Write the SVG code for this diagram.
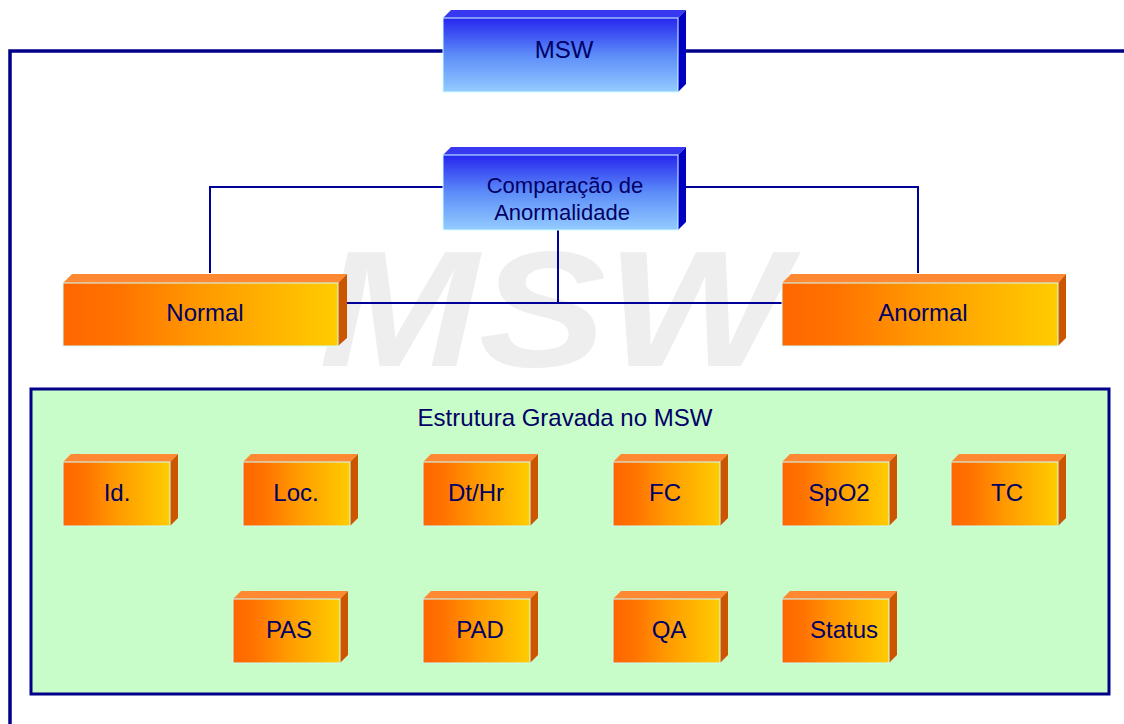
<svg xmlns="http://www.w3.org/2000/svg" width="1124" height="724" viewBox="0 0 1124 724">
<defs>
<linearGradient id="gBlue" x1="0" y1="0" x2="0" y2="1">
<stop offset="0" stop-color="#2626ee"/>
<stop offset="0.5" stop-color="#5c8cf8"/>
<stop offset="1" stop-color="#94ccff"/>
</linearGradient>
<linearGradient id="gOrange" x1="0" y1="0" x2="1" y2="0">
<stop offset="0" stop-color="#ff6600"/>
<stop offset="0.2" stop-color="#ff7300"/>
<stop offset="0.5" stop-color="#ff9900"/>
<stop offset="1" stop-color="#ffcc00"/>
</linearGradient>
<style>
.face{stroke:#ccffff;stroke-width:1}
.btop{fill:#3838f0}
.bside{fill:#0000c0}
.otop{fill:#ff8833}
.oside{fill:#cc5500}
.lbl{font-family:"Liberation Sans",Arial,sans-serif;font-size:24px;fill:#000066;text-anchor:middle}
.lbl2{font-size:22px}
.conn{fill:none;stroke:#000099;stroke-width:2}
.thick{fill:none;stroke:#000088;stroke-width:3.5}
</style>
</defs>
<rect width="1124" height="724" fill="#ffffff"/>
<text x="553" y="366" font-family="Liberation Sans,Arial,sans-serif" font-size="166" font-weight="bold" font-style="italic" fill="#eeeeee" text-anchor="middle" textLength="468" lengthAdjust="spacingAndGlyphs">MSW</text>
<g id="connectors">
<polyline class="thick" points="443,51 10,51 10,724"/>
<line class="thick" x1="686" y1="51" x2="1124" y2="51"/>
<polyline class="conn" points="443,187 210,187 210,273"/>
<polyline class="conn" points="686,187 918,187 918,273"/>
<line class="conn" x1="558" y1="230" x2="558" y2="303"/>
<line class="conn" x1="347" y1="303" x2="782" y2="303"/>
</g>
<g id="msw">
<polygon class="btop" points="443,18 451,10 686,10 678,18"/>
<polygon class="bside" points="678,18 686,10 686,84 678,92"/>
<rect class="face" x="443" y="18" width="235" height="74" fill="url(#gBlue)"/>
<text class="lbl" x="564" y="58">MSW</text>
</g>
<g id="comparacao">
<polygon class="btop" points="443,155 451,147 686,147 678,155"/>
<polygon class="bside" points="678,155 686,147 686,222 678,230"/>
<rect class="face" x="443" y="155" width="235" height="75" fill="url(#gBlue)"/>
<text class="lbl lbl2"><tspan x="565" y="193">Comparação de</tspan><tspan x="562" y="220">Anormalidade</tspan></text>
</g>
<g id="normal">
<polygon class="otop" points="63,283 72,274 347,274 338,283"/>
<polygon class="oside" points="338,283 347,274 347,338 338,346"/>
<rect class="face" x="63" y="283" width="275" height="63" fill="url(#gOrange)"/>
<text class="lbl" x="205" y="321">Normal</text>
</g>
<g id="anormal">
<polygon class="otop" points="782,283 791,274 1066,274 1058,283"/>
<polygon class="oside" points="1058,283 1066,274 1066,338 1058,346"/>
<rect class="face" x="782" y="283" width="276" height="63" fill="url(#gOrange)"/>
<text class="lbl" x="923" y="321">Anormal</text>
</g>
<g id="estrutura">
<rect x="31" y="389" width="1078" height="305" fill="#c8fcc8" stroke="#000088" stroke-width="3"/>
<text class="lbl" x="565" y="426">Estrutura Gravada no MSW</text>
</g>
<g id="id">
<polygon class="otop" points="63,462 71,454 178,454 170,462"/>
<polygon class="oside" points="170,462 178,454 178,518 170,526"/>
<rect class="face" x="63" y="462" width="107" height="64" fill="url(#gOrange)"/>
<text class="lbl" x="117" y="501">Id.</text>
</g>
<g id="loc">
<polygon class="otop" points="243,462 251,454 358,454 350,462"/>
<polygon class="oside" points="350,462 358,454 358,518 350,526"/>
<rect class="face" x="243" y="462" width="107" height="64" fill="url(#gOrange)"/>
<text class="lbl" x="296" y="501">Loc.</text>
</g>
<g id="dthr">
<polygon class="otop" points="423,462 431,454 538,454 530,462"/>
<polygon class="oside" points="530,462 538,454 538,518 530,526"/>
<rect class="face" x="423" y="462" width="107" height="64" fill="url(#gOrange)"/>
<text class="lbl" x="476" y="501">Dt/Hr</text>
</g>
<g id="fc">
<polygon class="otop" points="613,462 621,454 728,454 720,462"/>
<polygon class="oside" points="720,462 728,454 728,518 720,526"/>
<rect class="face" x="613" y="462" width="107" height="64" fill="url(#gOrange)"/>
<text class="lbl" x="665" y="501">FC</text>
</g>
<g id="spo2">
<polygon class="otop" points="782,462 790,454 897,454 889,462"/>
<polygon class="oside" points="889,462 897,454 897,518 889,526"/>
<rect class="face" x="782" y="462" width="107" height="64" fill="url(#gOrange)"/>
<text class="lbl" x="839" y="501">SpO2</text>
</g>
<g id="tc">
<polygon class="otop" points="951,462 959,454 1066,454 1058,462"/>
<polygon class="oside" points="1058,462 1066,454 1066,518 1058,526"/>
<rect class="face" x="951" y="462" width="107" height="64" fill="url(#gOrange)"/>
<text class="lbl" x="1007" y="501">TC</text>
</g>
<g id="pas">
<polygon class="otop" points="233,599 241,591 348,591 340,599"/>
<polygon class="oside" points="340,599 348,591 348,655 340,663"/>
<rect class="face" x="233" y="599" width="107" height="64" fill="url(#gOrange)"/>
<text class="lbl" x="289" y="638">PAS</text>
</g>
<g id="pad">
<polygon class="otop" points="423,599 431,591 538,591 530,599"/>
<polygon class="oside" points="530,599 538,591 538,655 530,663"/>
<rect class="face" x="423" y="599" width="107" height="64" fill="url(#gOrange)"/>
<text class="lbl" x="480" y="638">PAD</text>
</g>
<g id="qa">
<polygon class="otop" points="613,599 621,591 728,591 720,599"/>
<polygon class="oside" points="720,599 728,591 728,655 720,663"/>
<rect class="face" x="613" y="599" width="107" height="64" fill="url(#gOrange)"/>
<text class="lbl" x="669" y="638">QA</text>
</g>
<g id="status">
<polygon class="otop" points="782,599 790,591 897,591 889,599"/>
<polygon class="oside" points="889,599 897,591 897,655 889,663"/>
<rect class="face" x="782" y="599" width="107" height="64" fill="url(#gOrange)"/>
<text class="lbl" x="844" y="638">Status</text>
</g>
</svg>
